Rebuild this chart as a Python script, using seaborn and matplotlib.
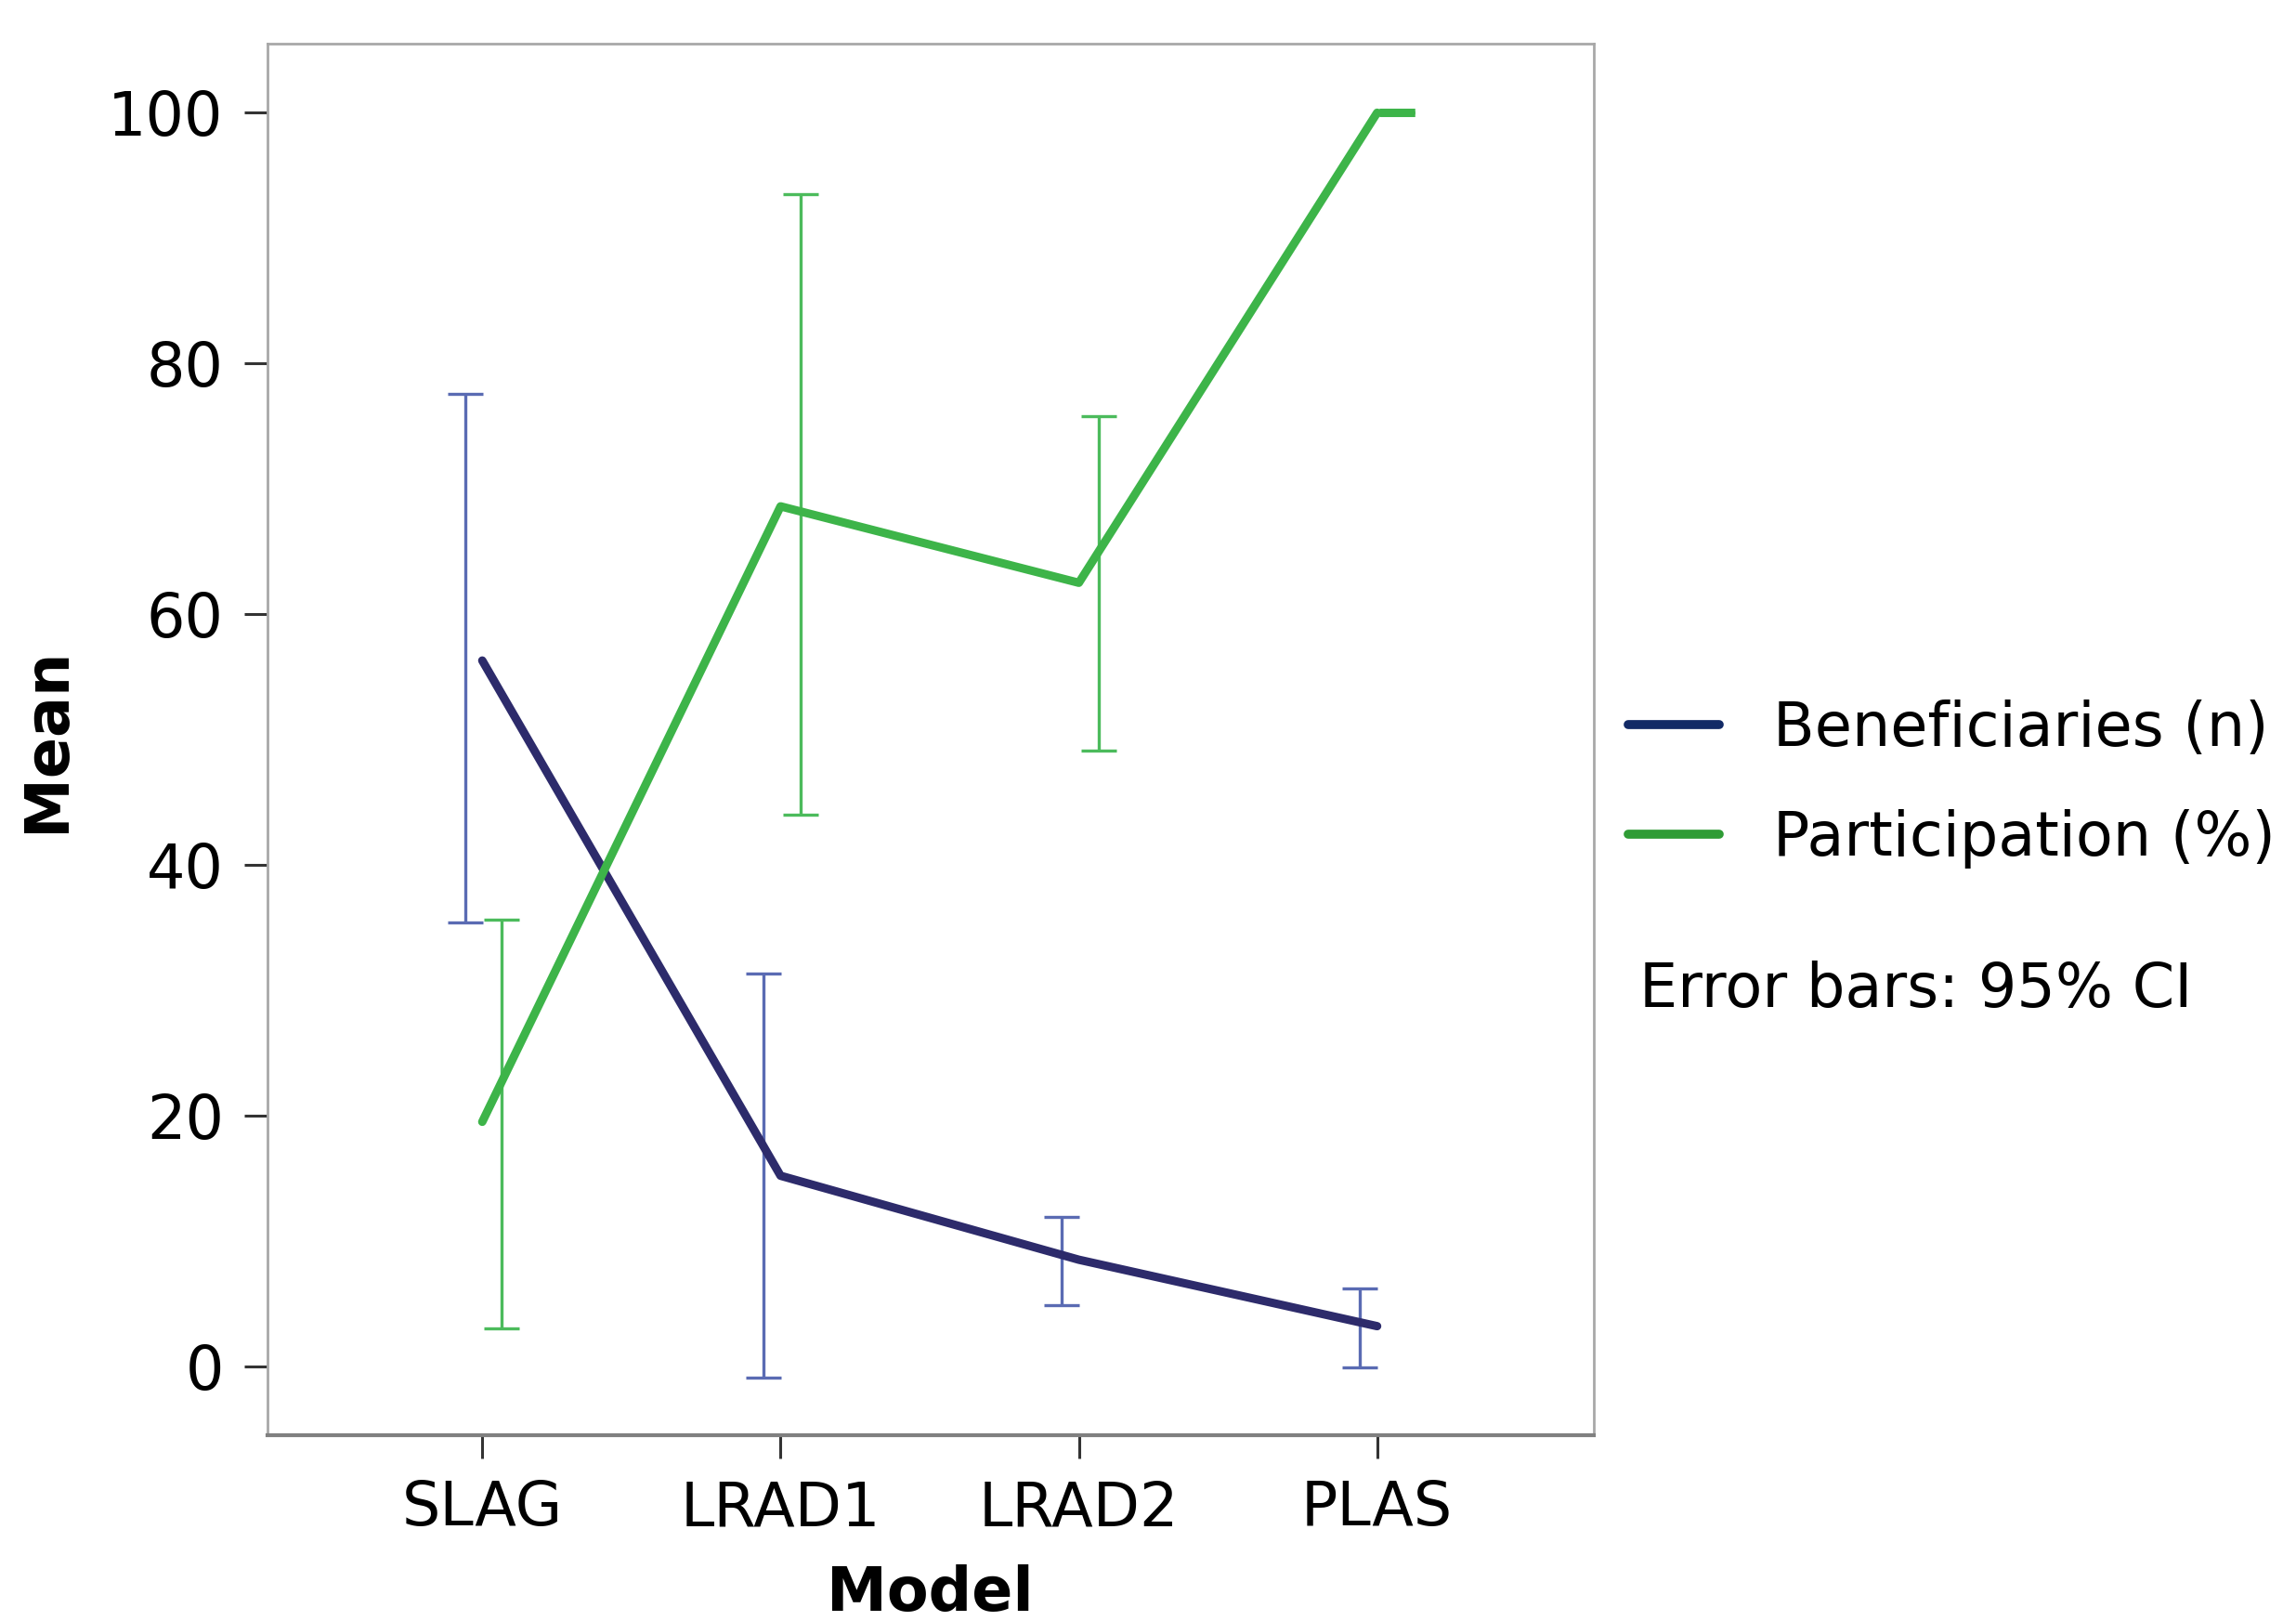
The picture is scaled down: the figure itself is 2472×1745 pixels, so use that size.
import matplotlib
matplotlib.use("Agg")
import matplotlib.pyplot as plt
import seaborn as sns
import pandas as pd
import numpy as np
from matplotlib.lines import Line2D

sns.set_theme(style="white")
plt.rcParams['font.family'] = ['DejaVu Sans']
plt.rcParams['text.color'] = 'black'
plt.rcParams['axes.labelcolor'] = 'black'
plt.rcParams['xtick.color'] = 'black'
plt.rcParams['ytick.color'] = 'black'

models = ["SLAG", "LRAD1", "LRAD2", "PLAS"]
series = ["Beneficiaries (n)", "Participation (%)"]
benef_mean = [56.3, 15.2, 8.5, 3.2]
benef_lo = [35.4, -0.9, 4.9, -0.1]
benef_hi = [77.6, 31.3, 11.9, 6.2]
part_mean = [19.5, 68.6, 62.5, 100.0]
part_lo = [3.0, 44.0, 49.1, 100.0]
part_hi = [35.6, 93.5, 75.8, 100.0]

line_colors = {"Beneficiaries (n)": "#2d2b6b", "Participation (%)": "#3db449"}
err_colors = {"Beneficiaries (n)": "#5a6bb3", "Participation (%)": "#4cbb5c"}
legend_colors = {"Beneficiaries (n)": "#122a66", "Participation (%)": "#2f9c35"}

df = pd.DataFrame({
    "Model": models * 2,
    "Mean": benef_mean + part_mean,
    "Series": [series[0]] * 4 + [series[1]] * 4,
})

FS = 47

fig = plt.figure(figsize=(24.72, 17.45), dpi=100)
ax = fig.add_axes([0.1165, 0.1146, 0.694 - 0.1165, 0.973 - 0.1146])

sns.lineplot(data=df, x="Model", y="Mean", hue="Series", palette=line_colors,
             linewidth=6.5, ax=ax, legend=False, sort=False)

xpos = np.arange(len(models))
for name, lo, hi, mean, off in [
    (series[0], benef_lo, benef_hi, benef_mean, -0.057),
    (series[1], part_lo, part_hi, part_mean, 0.066),
]:
    lo = np.array(lo); hi = np.array(hi); mean = np.array(mean)
    ax.errorbar(xpos + off, (lo + hi) / 2, yerr=(hi - lo) / 2, fmt="none",
                ecolor=err_colors[name], elinewidth=2.4, capsize=14,
                capthick=2.4, zorder=1)

# PLAS participation cap (zero-width CI drawn thick)
ax.errorbar([3 + 0.066], [part_mean[3]], yerr=[0], fmt="none",
            ecolor=line_colors[series[1]], capsize=14, capthick=6.5, zorder=3)

ax.set_xlim(-0.72, 3.725)
ax.set_ylim(-5.5, 105.5)
ax.set_yticks([0, 20, 40, 60, 80, 100])
ax.tick_params(axis="both", which="both", direction="out", length=18,
               width=2.2, color="#333333", labelsize=FS, pad=16, bottom=True, left=True)
for s in ax.spines.values():
    s.set_color("#a8a8a8")
    s.set_linewidth(2)
ax.spines["bottom"].set_color("#808080")
ax.spines["bottom"].set_linewidth(3)

ax.set_xlabel("Model", fontsize=FS, fontweight="bold", labelpad=20)
ax.set_ylabel("Mean", fontsize=FS, fontweight="bold", labelpad=24)

handles = [Line2D([], [], color=legend_colors[s], linewidth=7) for s in series]
fig.legend(handles, series, loc="center left", bbox_to_anchor=(0.709, 0.5165),
           frameon=False, fontsize=FS, handlelength=1.5, handletextpad=0.9,
           labelspacing=0.83, borderpad=0, borderaxespad=0)
fig.text(0.714, 0.389, "Error bars: 95% CI", fontsize=FS, va="center", ha="left")

fig.savefig("out.png", dpi=100)
